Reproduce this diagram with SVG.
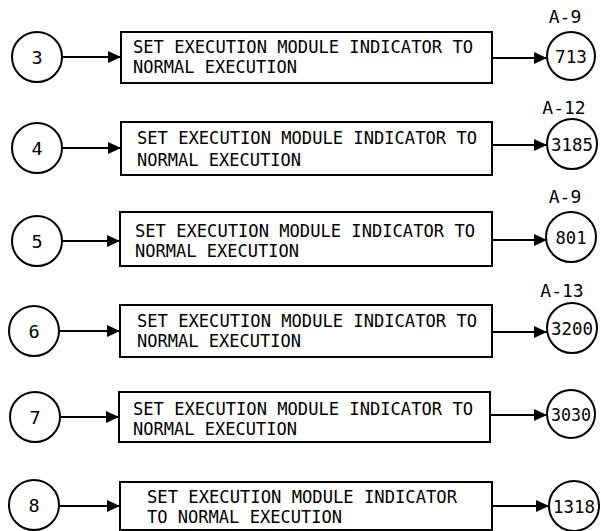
<svg xmlns="http://www.w3.org/2000/svg" width="601" height="531" viewBox="0 0 601 531">
<defs>
<style>
.node circle{fill:#fff;stroke:#000;stroke-width:2}
.node rect{fill:#fff;stroke:#000;stroke-width:2}
text{font-family:"DejaVu Sans Mono","Liberation Mono",monospace;font-size:18.5px;fill:#000}
.c{text-anchor:middle}
.lbl{text-anchor:middle;font-size:18px}
.edge{stroke:#000;stroke-width:2;fill:none;marker-end:url(#ah)}
</style>
<marker id="ah" markerUnits="userSpaceOnUse" markerWidth="13" markerHeight="12" refX="13" refY="6" orient="auto">
<path d="M0,0 L13,6 L0,12 z" fill="#000"/>
</marker>
</defs>
<rect width="601" height="531" fill="#fff"/>

<g id="connectors">
<line class="edge" x1="62" y1="57" x2="121" y2="57"/>
<line class="edge" x1="492" y1="58" x2="547" y2="58"/>
<line class="edge" x1="62" y1="148" x2="121" y2="148"/>
<line class="edge" x1="492" y1="145" x2="547" y2="145"/>
<line class="edge" x1="62" y1="241" x2="120" y2="241"/>
<line class="edge" x1="492" y1="240" x2="547" y2="240"/>
<line class="edge" x1="59" y1="331" x2="120" y2="331"/>
<line class="edge" x1="492" y1="332" x2="547" y2="332"/>
<line class="edge" x1="60" y1="417" x2="119" y2="417"/>
<line class="edge" x1="490" y1="415" x2="547" y2="415"/>
<line class="edge" x1="59" y1="506" x2="120" y2="506"/>
<line class="edge" x1="492" y1="506" x2="549" y2="506"/>
</g>

<g id="n3" class="node"><circle cx="37" cy="57" r="25"/><text class="c" x="37" y="64">3</text></g>
<g id="b1" class="node"><rect x="121" y="32" width="371" height="51"/>
<text x="133" y="53" textLength="340" lengthAdjust="spacingAndGlyphs">SET EXECUTION MODULE INDICATOR TO</text>
<text x="133" y="73" textLength="164" lengthAdjust="spacingAndGlyphs">NORMAL EXECUTION</text></g>
<g id="n713" class="node"><circle cx="571" cy="56" r="24"/><text class="c" x="571" y="63" textLength="32" lengthAdjust="spacingAndGlyphs">713</text></g>
<text class="lbl" x="565" y="23">A-9</text>

<g id="n4" class="node"><circle cx="37" cy="148" r="25"/><text class="c" x="37" y="155">4</text></g>
<g id="b2" class="node"><rect x="121" y="122" width="371" height="53"/>
<text x="137" y="144" textLength="340" lengthAdjust="spacingAndGlyphs">SET EXECUTION MODULE INDICATOR TO</text>
<text x="137" y="166" textLength="164" lengthAdjust="spacingAndGlyphs">NORMAL EXECUTION</text></g>
<g id="n3185" class="node"><circle cx="572" cy="144" r="25"/><text class="c" x="572" y="151" textLength="42" lengthAdjust="spacingAndGlyphs">3185</text></g>
<text class="lbl" x="564" y="114">A-12</text>

<g id="n5" class="node"><circle cx="37" cy="241" r="25"/><text class="c" x="37" y="248">5</text></g>
<g id="b3" class="node"><rect x="120" y="212" width="372" height="54"/>
<text x="135" y="237" textLength="340" lengthAdjust="spacingAndGlyphs">SET EXECUTION MODULE INDICATOR TO</text>
<text x="135" y="257" textLength="164" lengthAdjust="spacingAndGlyphs">NORMAL EXECUTION</text></g>
<g id="n801" class="node"><circle cx="571" cy="237" r="25"/><text class="c" x="571" y="244" textLength="31" lengthAdjust="spacingAndGlyphs">801</text></g>
<text class="lbl" x="565" y="203">A-9</text>

<g id="n6" class="node"><circle cx="34" cy="331" r="25"/><text class="c" x="34" y="338">6</text></g>
<g id="b4" class="node"><rect x="120" y="305" width="372" height="52"/>
<text x="137" y="327" textLength="340" lengthAdjust="spacingAndGlyphs">SET EXECUTION MODULE INDICATOR TO</text>
<text x="137" y="347" textLength="164" lengthAdjust="spacingAndGlyphs">NORMAL EXECUTION</text></g>
<g id="n3200" class="node"><circle cx="572" cy="328" r="25"/><text class="c" x="572" y="335" textLength="42" lengthAdjust="spacingAndGlyphs">3200</text></g>
<text class="lbl" x="562" y="297">A-13</text>

<g id="n7" class="node"><circle cx="35" cy="417" r="25"/><text class="c" x="35" y="424">7</text></g>
<g id="b5" class="node"><rect x="119" y="392" width="371" height="50"/>
<text x="133" y="415" textLength="340" lengthAdjust="spacingAndGlyphs">SET EXECUTION MODULE INDICATOR TO</text>
<text x="133" y="435" textLength="164" lengthAdjust="spacingAndGlyphs">NORMAL EXECUTION</text></g>
<g id="n3030" class="node"><circle cx="571" cy="414" r="24"/><text class="c" x="571" y="421" textLength="40" lengthAdjust="spacingAndGlyphs">3030</text></g>

<g id="n8" class="node"><circle cx="34" cy="505" r="25"/><text class="c" x="34" y="512">8</text></g>
<g id="b6" class="node"><rect x="120" y="482" width="372" height="48"/>
<text x="147" y="503" textLength="310" lengthAdjust="spacingAndGlyphs">SET EXECUTION MODULE INDICATOR</text>
<text x="147" y="523" textLength="195" lengthAdjust="spacingAndGlyphs">TO NORMAL EXECUTION</text></g>
<g id="n1318" class="node"><circle cx="574" cy="506" r="25"/><text class="c" x="574" y="513" textLength="42" lengthAdjust="spacingAndGlyphs">1318</text></g>
</svg>
